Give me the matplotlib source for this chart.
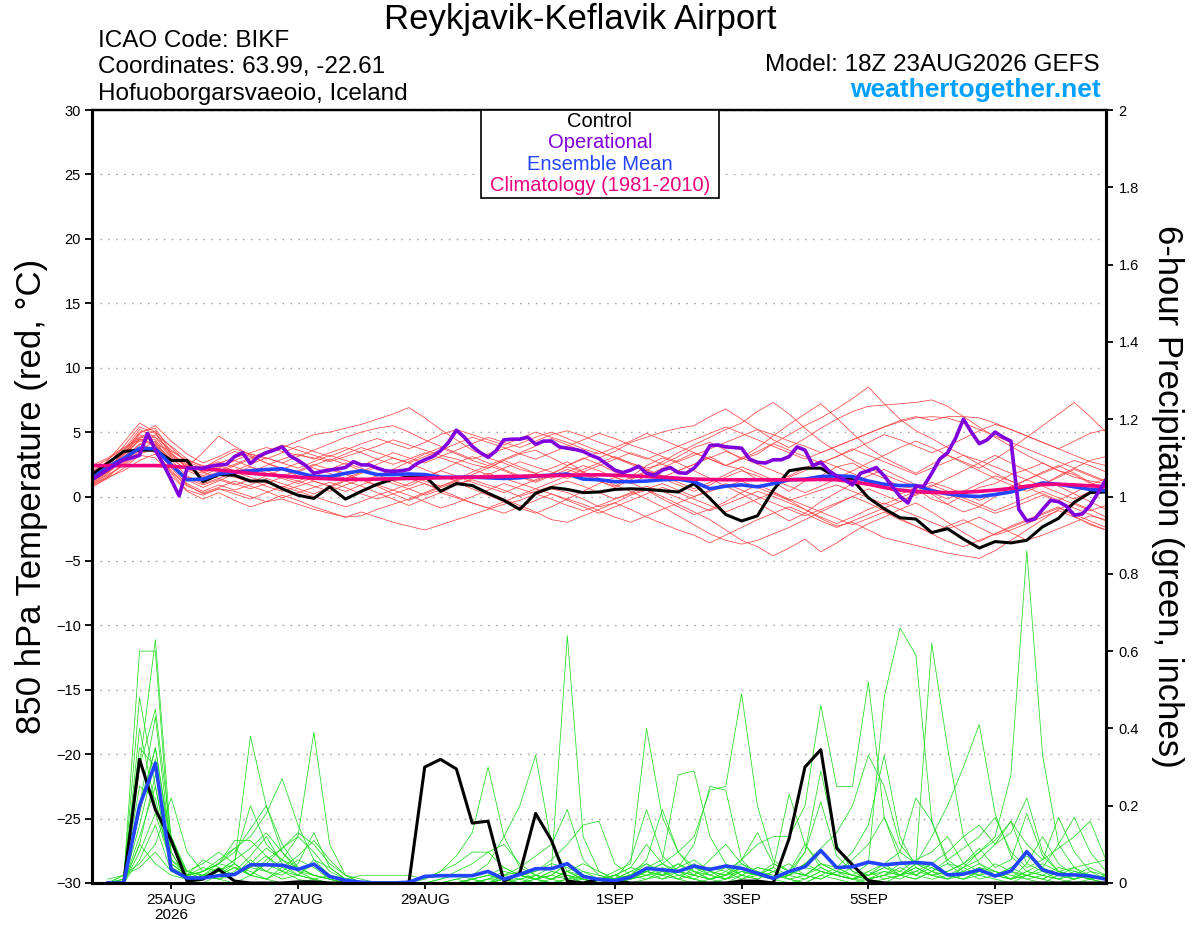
import datetime as dt
import matplotlib.pyplot as plt
from matplotlib.patches import Rectangle

plt.rcParams['font.family'] = ['Liberation Sans', 'DejaVu Sans']

# ------------------------------------------------------------------
# Data
# ------------------------------------------------------------------
run_start = dt.datetime(2026, 8, 23, 18)

tick_dates = [dt.datetime(2026, 8, 25), dt.datetime(2026, 8, 27), dt.datetime(2026, 8, 29),
              dt.datetime(2026, 9, 1), dt.datetime(2026, 9, 3), dt.datetime(2026, 9, 5),
              dt.datetime(2026, 9, 7)]
tick_labels = ['25AUG\n2026', '27AUG', '29AUG', '1SEP', '3SEP', '5SEP', '7SEP']

# 850 hPa temperature, 6-hourly (degC)
ctrl_temp = [
    1.7, 2.6, 3.5, 3.6, 3.6, 2.8, 2.8, 1.15, 1.7, 1.65, 1.2, 1.2, 0.6,
    0.1, -0.15, 0.75, -0.2, 0.4, 0.95, 1.35, 1.5, 1.6, 0.4, 1.0, 0.85, 0.25,
    -0.3, -1.0, 0.25, 0.7, 0.55, 0.3, 0.35, 0.55, 0.6, 0.55, 0.45, 0.35, 1.0,
    -0.15, -1.4, -1.9, -1.5, 0.5, 2.0, 2.2, 2.2, 1.5, 1.3, -0.1, -0.95, -1.65,
    -1.75, -2.8, -2.5, -3.3, -4.0, -3.5, -3.6, -3.4, -2.35, -1.7, -0.45, 0.3, 0.35]

mean_temp = [
    1.4, 2.3, 2.95, 3.75, 3.7, 2.45, 1.3, 1.35, 1.75, 1.9, 2.0, 2.1, 2.15,
    1.85, 1.55, 1.55, 1.8, 2.0, 1.7, 1.7, 1.75, 1.7, 1.5, 1.5, 1.5, 1.45,
    1.4, 1.45, 1.6, 1.65, 1.75, 1.35, 1.3, 1.15, 1.15, 1.2, 1.3, 1.35, 1.15,
    0.6, 0.8, 0.9, 0.75, 1.0, 1.3, 1.35, 1.55, 1.6, 1.55, 1.2, 0.95, 0.85,
    0.85, 0.45, 0.2, 0.05, 0.0, 0.15, 0.35, 0.7, 1.05, 0.95, 0.75, 0.55, 0.45]

clim_temp = [
    2.4, 2.4, 2.4, 2.4, 2.4, 2.35, 2.25, 2.15, 2.05, 1.93, 1.8, 1.7, 1.6,
    1.5, 1.42, 1.37, 1.33, 1.33, 1.35, 1.37, 1.4, 1.42, 1.45, 1.47, 1.5, 1.52,
    1.55, 1.57, 1.6, 1.62, 1.65, 1.67, 1.68, 1.65, 1.6, 1.55, 1.5, 1.42, 1.35,
    1.32, 1.3, 1.3, 1.3, 1.3, 1.3, 1.3, 1.32, 1.3, 1.15, 0.95, 0.7, 0.5,
    0.38, 0.32, 0.3, 0.33, 0.4, 0.5, 0.62, 0.8, 0.93, 0.95, 0.9, 0.83, 0.77]

# operational run, 3-hourly
oper_temp = [
    1.3, 1.7, 2.1, 2.5, 2.85, 3.0, 3.2, 4.9, 3.6, 2.5, 1.3, 0.05, 2.2, 2.2, 2.2, 2.35,
    2.45, 2.5, 3.1, 3.4, 2.55, 3.1, 3.4, 3.6, 3.85, 3.15, 2.8, 2.4, 1.8, 1.95, 2.05, 2.15,
    2.25, 2.7, 2.45, 2.45, 2.2, 2.0, 1.95, 2.0, 2.1, 2.55, 2.85, 3.1, 3.55, 4.2, 5.15, 4.6,
    3.9, 3.4, 3.05, 3.55, 4.4, 4.45, 4.45, 4.6, 4.05, 4.3, 4.3, 3.85, 3.75, 3.65, 3.5, 3.2,
    2.95,
    2.5, 2.05, 1.85, 2.05, 2.35, 1.8, 1.65, 2.05, 2.25, 1.85, 1.8, 2.2, 2.9, 3.95, 4.0, 3.85,
    3.8, 3.75, 2.9, 2.65, 2.6, 2.85, 2.85, 3.1, 3.85, 3.6, 2.4, 2.65, 2.0, 1.6, 1.3, 0.9,
    1.8, 2.0, 2.25, 1.6, 0.8, 0.0, -0.5, 0.8, 0.8, 1.8, 2.9, 3.4, 4.5, 6.0, 5.0, 4.1,
    4.4, 5.0, 4.6, 4.3, -1.0, -1.9, -1.75, -1.0, -0.3, -0.4, -0.75, -1.45, -1.35, -0.7, 0.3, 1.3]

# ensemble members, 6-hourly
t_m01 = [1.5, 2.8, 4.2, 5.7, 5.0, 3.2, 2.4, 2.0, 2.6, 3.0, 3.4, 3.8, 3.5,
         3.2, 3.0, 2.7, 3.1, 3.5, 3.9, 4.4, 4.0, 3.6, 3.2, 2.9, 2.5, 2.2,
         2.8, 3.3, 3.6, 3.0, 2.4, 2.9, 3.5, 3.0, 2.6, 2.2, 2.5, 3.1, 3.8,
         4.2, 3.6, 2.9, 3.3, 4.1, 4.8, 5.5, 6.1, 6.8, 7.6, 8.5, 7.2, 6.0,
         5.1, 4.5, 3.8, 3.2, 2.5, 1.8, 1.2, 0.6, 0.9, 1.6, 2.2, 2.8, 3.1]
t_m02 = [1.0, 1.8, 3.0, 4.5, 4.0, 2.5, 1.5, 1.2, 1.8, 2.4, 2.9, 3.3, 3.8,
         4.3, 4.8, 5.0, 5.3, 5.6, 6.0, 6.4, 6.9, 6.1, 5.2, 4.4, 3.6, 3.0,
         2.6, 2.1, 1.8, 2.2, 2.7, 1.9, 1.2, 0.8, 1.5, 2.4, 3.0, 2.6, 2.0,
         1.4, 0.8, 0.2, -0.5, -1.2, -1.9, -1.3, -0.4, 0.3, 1.0, 1.6, 2.1, 1.5,
         0.9, 0.2, -0.6, -1.2, -0.8, 0.0, 0.7, 1.3, 1.9, 2.4, 1.8, 1.1, 0.5]
t_m03 = [0.7, 1.5, 2.6, 3.8, 3.4, 2.0, 0.9, 0.2, 0.6, 0.4, 0.0, -0.4, -0.2,
         -0.6, -1.0, -1.3, -1.6, -1.2, -1.6, -2.0, -2.3, -2.6, -2.2, -1.8, -1.4, -1.0,
         -0.6, -0.3, 0.2, 0.6, 0.3, -0.2, -0.8, -0.5, 0.1, 0.5, 0.0, -0.6, -1.2,
         -1.8, -2.6, -3.4, -3.9, -4.6, -4.0, -3.3, -4.3, -3.6, -2.8, -2.1, -1.6, -1.0,
         -0.5, -1.2, -2.0, -2.8, -3.5, -2.9, -2.3, -1.8, -1.3, -0.8, -1.5, -2.2, -2.6]
t_m04 = [1.2, 2.0, 3.3, 4.8, 4.2, 2.8, 1.6, 1.0, 1.4, 1.0, 0.6, 1.0, 1.5,
         1.2, 0.8, 0.4, 0.9, 1.3, 0.8, 0.2, -0.3, 0.2, 0.7, 1.1, 0.6, 0.1,
         -0.4, -0.9, -1.3, -0.8, -0.2, 0.4, 1.0, 1.5, 1.1, 0.5, -0.2, -0.8, -1.4,
         -1.0, -0.4, 0.3, 0.9, 0.4, -0.3, -1.0, -1.7, -2.3, -2.0, -2.6, -3.2, -3.5,
         -3.8, -4.1, -4.4, -4.6, -4.8, -4.2, -3.4, -2.6, -1.8, -1.0, -0.5, -1.0, -1.6]
t_m05 = [1.8, 2.6, 3.6, 5.2, 4.6, 3.6, 2.7, 2.2, 2.9, 3.5, 3.1, 2.6, 2.2,
         1.9, 2.4, 2.9, 2.5, 2.0, 1.6, 2.1, 2.7, 3.3, 3.8, 3.3, 2.8, 2.4,
         2.9, 3.4, 3.9, 4.5, 4.0, 3.5, 3.0, 3.5, 4.2, 4.6, 5.0, 5.3, 5.5,
         6.2, 6.8, 6.0, 5.2, 4.4, 3.8, 4.5, 5.3, 6.0, 6.6, 7.0, 7.1, 7.2,
         7.3, 7.5, 7.0, 6.2, 5.4, 4.6, 3.9, 3.2, 2.6, 2.0, 1.5, 1.2, 1.0]
t_m06 = [1.4, 2.2, 3.4, 5.0, 5.3, 3.4, 2.2, 1.6, 2.2, 2.8, 2.3, 1.8, 1.4,
         1.0, 1.5, 2.1, 2.6, 2.2, 1.7, 1.2, 0.8, 1.4, 2.0, 2.6, 3.1, 2.6,
         2.1, 1.6, 1.2, 1.7, 2.4, 3.0, 2.5, 1.9, 1.4, 2.0, 2.7, 3.4, 4.0,
         4.6, 5.2, 5.7, 6.6, 7.3, 6.4, 5.3, 4.3, 3.5, 2.8, 2.2, 1.7, 1.2,
         0.8, 0.3, -0.2, 0.4, 1.0, 1.6, 1.2, 0.7, 0.2, -0.3, 0.3, 0.9, 1.4]
t_m07 = [2.2, 2.9, 3.7, 4.6, 4.4, 3.0, 2.0, 1.5, 1.9, 1.5, 1.1, 1.6, 2.1,
         2.6, 2.2, 1.8, 1.4, 1.9, 2.5, 3.0, 2.6, 2.1, 1.6, 1.2, 1.7, 2.2,
         2.8, 2.3, 1.8, 1.4, 1.9, 2.4, 2.0, 1.5, 1.0, 1.6, 2.2, 2.8, 3.4,
         2.9, 2.4, 3.0, 3.8, 4.7, 5.6, 6.4, 7.2, 6.1, 4.9, 3.8, 3.0, 2.4,
         1.8, 2.5, 3.2, 2.7, 2.2, 2.9, 3.7, 4.6, 5.5, 6.4, 7.3, 6.2, 5.0]
t_m08 = [0.9, 1.6, 2.5, 3.5, 3.9, 2.6, 1.3, 0.7, 1.2, 1.8, 2.3, 2.0, 1.6,
         2.0, 2.5, 2.1, 1.7, 1.2, 1.6, 2.1, 1.7, 1.2, 0.8, 1.3, 1.9, 2.4,
         2.0, 1.5, 1.1, 1.6, 2.1, 1.7, 1.2, 0.7, 1.3, 1.9, 1.4, 0.9, 0.4,
         0.9, 1.5, 2.0, 1.6, 1.1, 1.6, 2.2, 2.8, 2.3, 1.8, 1.2, 0.7, 0.2,
         0.6, 1.1, 0.7, 0.2, -0.3, 0.2, 0.8, 1.3, 0.8, 0.3, -0.2, 0.4, 0.9]
t_m09 = [1.1, 1.9, 2.9, 4.1, 3.6, 1.8, 0.5, 0.1, 0.6, 0.2, -0.2, 0.3, 0.8,
         0.4, 0.0, -0.4, -0.8, -0.4, 0.1, 0.5, 0.1, -0.4, -0.9, -0.5, 0.0, 0.5,
         1.0, 0.6, 0.2, -0.2, -0.7, -1.1, -0.7, -0.2, 0.3, 0.8, 0.4, -0.1, -0.6,
         -1.1, -0.6, -0.1, 0.4, 0.0, -0.5, -1.0, -1.6, -2.1, -1.6, -1.0, -0.5, -1.0,
         -1.5, -2.0, -2.5, -2.1, -1.6, -2.2, -2.8, -3.4, -3.0, -2.5, -2.0, -1.5, -1.8]
t_m10 = [2.0, 2.7, 3.5, 4.9, 5.5, 4.3, 3.3, 2.6, 3.1, 3.7, 3.3, 2.9, 3.4,
         3.9, 3.5, 3.1, 3.6, 4.1, 4.5, 4.1, 3.7, 4.2, 4.8, 5.2, 4.8, 4.4,
         4.0, 4.5, 5.0, 4.6, 4.2, 3.7, 3.3, 3.8, 4.3, 4.9, 4.4, 3.9, 3.4,
         2.9, 2.4, 2.9, 3.5, 4.1, 3.6, 3.1, 2.6, 3.1, 3.6, 4.2, 4.8, 4.4,
         3.9, 3.4, 3.9, 4.5, 5.1, 5.6, 5.2, 4.7, 4.2, 3.7, 4.3, 4.9, 5.2]
t_m11 = [0.8, 1.4, 2.2, 3.2, 3.0, 1.6, 0.4, -0.2, 0.3, -0.3, -0.8, -0.4, 0.1,
         -0.3, -0.8, -1.2, -1.6, -1.5, -1.0, -0.6, -0.2, 0.3, 0.8, 1.2, 0.8, 0.3,
         -0.2, -0.7, -1.2, -1.8, -2.0, -1.5, -1.0, -0.5, -1.0, -1.6, -2.1, -2.6, -3.0,
         -3.6, -3.0, -2.4, -1.8, -1.3, -0.8, -1.3, -1.9, -2.4, -1.9, -1.4, -0.9, -0.4,
         0.1, 0.6, 0.2, -0.3, -0.8, -1.3, -0.9, -0.4, 0.1, -0.4, -0.9, -1.4, -1.9]
t_m12 = [1.6, 2.4, 3.1, 4.0, 4.8, 3.9, 2.9, 2.3, 2.7, 2.3, 1.9, 2.4, 2.9,
         3.3, 2.9, 3.4, 3.8, 3.4, 2.9, 2.5, 2.9, 3.4, 3.0, 2.6, 2.1, 1.7,
         2.2, 2.7, 2.3, 1.9, 1.4, 1.9, 2.4, 2.9, 3.4, 3.0, 2.5, 2.0, 2.5,
         3.0, 3.5, 3.0, 2.5, 2.0, 1.5, 2.0, 2.6, 3.1, 3.7, 3.2, 2.7, 2.2,
         1.7, 2.2, 2.7, 3.2, 2.8, 2.3, 1.8, 1.3, 1.8, 2.3, 2.8, 2.4, 1.9]
t_m13 = [1.3, 2.1, 3.2, 4.4, 4.6, 3.1, 2.3, 3.4, 4.7, 3.9, 3.2, 2.6, 2.1,
         1.6, 1.2, 0.8, 1.3, 1.8, 2.3, 1.9, 1.4, 1.0, 0.5, 0.9, 1.4, 1.8,
         1.4, 1.0, 0.6, 1.1, 1.6, 2.1, 2.6, 3.1, 2.6, 2.1, 1.6, 1.1, 0.6,
         1.1, 1.7, 2.3, 1.8, 1.3, 0.8, 0.3, 0.8, 1.4, 2.0, 2.6, 3.2, 3.8,
         4.3, 3.8, 3.2, 2.6, 2.0, 1.4, 0.9, 0.4, 0.9, 1.5, 2.1, 1.6, 1.1]
t_m14 = [1.7, 2.5, 3.9, 5.4, 4.9, 3.3, 2.5, 1.9, 1.4, 1.9, 1.5, 1.1, 0.7,
         1.2, 1.7, 2.2, 1.8, 1.3, 0.9, 0.5, 1.0, 1.5, 2.0, 1.6, 1.1, 0.7,
         0.3, 0.8, 1.3, 1.8, 2.3, 1.9, 1.4, 0.9, 0.4, -0.2, -0.8, -1.5, -2.2,
         -2.9, -3.4, -3.7, -3.4, -2.9, -2.4, -1.8, -1.2, -0.6, 0.0, 0.6, 0.1, -0.4,
         0.2, 0.8, 1.4, 2.0, 2.6, 3.2, 2.6, 2.0, 1.4, 0.8, 0.2, -0.4, -1.0]
t_m15 = [1.9, 2.6, 3.4, 4.3, 4.0, 2.9, 2.1, 1.8, 2.3, 2.8, 3.3, 3.0, 2.6,
         3.1, 3.6, 4.1, 4.6, 5.0, 5.3, 5.5, 5.0, 4.4, 3.9, 3.4, 2.9, 3.3,
         3.7, 4.1, 4.6, 5.0, 4.5, 4.0, 3.5, 3.0, 2.5, 2.0, 1.5, 2.0, 2.5,
         3.1, 2.4, 2.1, 1.3, 1.1, 0.4, 1.2, 1.6, 2.3, 2.6, 1.9, 1.4, 0.8,
         0.6, -0.2, -0.6, 0.1, 0.7, 1.0, 1.7, 2.1, 2.6, 2.0, 1.7, 1.0, 0.5]
t_m16 = [1.0, 1.7, 2.4, 3.3, 3.7, 2.2, 1.0, 0.4, 0.9, 0.5, 0.9, 1.4, 1.0,
         0.6, 0.2, 0.7, 1.2, 0.8, 0.3, -0.2, -0.7, -0.2, 0.3, -0.1, -0.5, -0.9,
         -0.4, 0.1, 0.6, 0.2, -0.3, -0.8, -1.3, -0.8, -0.3, 0.2, 0.7, 0.3, -0.2,
         -0.7, -1.2, -0.7, -0.2, 0.3, -0.2, -0.7, -1.2, -1.7, -2.2, -1.7, -1.2, -1.8,
         -2.3, -2.8, -2.3, -1.8, -2.4, -3.0, -2.6, -2.1, -1.6, -1.1, -1.6, -2.1, -2.6]
t_m17 = [1.4, 2.3, 3.3, 4.6, 5.1, 3.8, 2.6, 1.9, 2.4, 2.0, 2.5, 3.0, 2.6,
         2.2, 2.7, 3.2, 2.8, 2.4, 2.9, 3.4, 3.0, 2.6, 3.1, 3.6, 4.1, 4.6,
         4.2, 3.8, 4.3, 4.8, 5.1, 4.7, 4.2, 3.8, 3.3, 2.9, 3.4, 3.9, 4.4,
         4.9, 5.4, 4.9, 4.4, 3.9, 3.4, 2.9, 3.4, 3.9, 4.4, 4.9, 5.4, 5.9,
         6.2, 5.9, 6.2, 6.2, 6.1, 5.7, 5.2, 4.7, 4.2, 3.7, 3.2, 2.7, 2.4]
t_m18 = [0.9, 1.5, 2.0, 2.8, 3.3, 1.9, 0.8, 0.3, 0.7, 1.2, 0.8, 0.4, -0.1,
         0.3, 0.7, 1.1, 0.7, 0.2, -0.2, 0.2, 0.6, 1.0, 0.5, 0.0, -0.5, -0.9,
         -1.3, -0.8, -0.3, 0.2, -0.2, -0.6, -1.1, -1.6, -2.0, -1.5, -1.0, -0.5, 0.0,
         0.5, 1.0, 0.5, 0.0, -0.5, -1.0, -1.5, -1.0, -0.5, 0.0, -0.5, -1.1, -1.7,
         -2.3, -2.9, -3.5, -3.9, -3.4, -2.9, -2.4, -1.9, -1.4, -0.9, -1.4, -1.9, -2.4]
t_m19 = [2.4, 3.0, 3.8, 4.4, 4.1, 3.5, 2.8, 2.4, 2.0, 2.5, 3.0, 3.5, 4.0,
         3.6, 3.2, 2.8, 3.3, 3.8, 3.4, 3.0, 2.6, 3.1, 3.6, 4.1, 4.6, 4.2,
         3.8, 3.3, 2.9, 3.4, 3.9, 4.4, 4.9, 4.5, 4.0, 3.6, 3.1, 2.7, 3.2,
         3.7, 4.2, 4.7, 5.2, 4.8, 4.3, 3.9, 3.4, 3.9, 4.4, 4.9, 5.4, 5.8,
         6.1, 6.2, 6.1, 5.7, 5.2, 4.7, 4.2, 3.7, 3.2, 2.7, 2.2, 1.7, 1.2]
t_m20 = [1.2, 1.9, 2.7, 3.6, 4.3, 2.4, 1.4, 0.9, 1.3, 0.9, 1.3, 0.8, 0.4,
         0.8, 1.2, 0.8, 0.4, 0.9, 1.4, 1.0, 0.6, 0.1, 0.5, 0.9, 1.3, 0.9,
         0.5, 0.0, 0.4, 0.8, 1.2, 0.8, 0.3, -0.2, 0.2, 0.6, 1.0, 0.5, 0.0,
         0.4, 0.8, 1.2, 0.7, 0.2, -0.3, 0.1, 0.5, 0.9, 0.4, -0.1, -0.6, -0.1,
         0.4, 0.9, 0.4, -0.1, -0.6, -1.1, -0.6, -0.1, 0.4, -0.1, -0.6, -1.1, -0.7]

# 6-hour precipitation (inches), valid from 00Z 24AUG
ctrl_precip = [
    0, 0, 0.32, 0.19, 0.11, 0.005, 0.01, 0.035, 0.005, 0, 0, 0, 0.003, 0.003, 0, 0,
    0, 0, 0, 0, 0.30, 0.32, 0.295, 0.155, 0.16, 0.005, 0.025, 0.18, 0.11, 0.005, 0, 0.01,
    0.005, 0, 0, 0, 0, 0, 0, 0, 0.005, 0.005, 0, 0.115, 0.30, 0.345, 0.09, 0.047,
    0.006, 0, 0, 0, 0, 0, 0, 0, 0, 0, 0, 0, 0, 0, 0, 0]
mean_precip = [
    0, 0, 0.2, 0.31, 0.035, 0.013, 0.013, 0.019, 0.022, 0.047, 0.047, 0.046, 0.035, 0.049, 0.017, 0.007,
    0.002, 0, 0, 0.002, 0.017, 0.019, 0.019, 0.019, 0.03, 0.01, 0.022, 0.037, 0.037, 0.05, 0.017, 0.009,
    0.006, 0.015, 0.038, 0.034, 0.03, 0.044, 0.035, 0.044, 0.038, 0.025, 0.012, 0.03, 0.042, 0.084, 0.04, 0.042,
    0.054, 0.047, 0.051, 0.053, 0.05, 0.021, 0.023, 0.034, 0.018, 0.031, 0.081, 0.034, 0.022, 0.021, 0.018, 0.01]

p_m01 = [0, 0.01, 0.60, 0.60, 0.06, 0.02, 0.01, 0.02, 0.04, 0.03, 0.01, 0, 0, 0.01, 0, 0,
         0, 0, 0, 0, 0, 0.01, 0.02, 0.01, 0, 0.01, 0.02, 0.01, 0, 0, 0.01, 0,
         0, 0.01, 0.02, 0.03, 0.01, 0, 0.01, 0.02, 0.04, 0.02, 0.01, 0, 0.01, 0.03, 0.02, 0.01,
         0, 0.01, 0.02, 0.01, 0.03, 0.05, 0.04, 0.08, 0.12, 0.28, 0.86, 0.33, 0.10, 0.04, 0.01, 0]
p_m02 = [0, 0, 0.30, 0.63, 0.10, 0.03, 0.02, 0.01, 0, 0.02, 0.05, 0.03, 0.01, 0, 0, 0,
         0, 0, 0, 0, 0, 0.01, 0.03, 0.05, 0.08, 0.10, 0.05, 0.02, 0.04, 0.64, 0.12, 0.03,
         0.01, 0.02, 0.05, 0.03, 0.01, 0.02, 0.01, 0, 0.01, 0.03, 0.02, 0.01, 0, 0.02, 0.04, 0.02,
         0.01, 0, 0.02, 0.05, 0.03, 0.01, 0.02, 0.04, 0.03, 0.01, 0.02, 0.04, 0.02, 0.01, 0.03, 0.01]
p_m03 = [0, 0.01, 0.48, 0.25, 0.04, 0.02, 0.03, 0.05, 0.04, 0.02, 0.06, 0.09, 0.12, 0.39, 0.10, 0.02,
         0, 0, 0, 0, 0, 0, 0.01, 0, 0, 0.02, 0.03, 0.01, 0.02, 0.05, 0.03, 0.01,
         0, 0.01, 0.02, 0.04, 0.02, 0.01, 0, 0.01, 0.03, 0.02, 0.01, 0.02, 0.05, 0.08, 0.04, 0.02,
         0.05, 0.48, 0.66, 0.59, 0.16, 0.06, 0.03, 0.02, 0.05, 0.03, 0.02, 0.01, 0, 0.01, 0.02, 0.01]
p_m04 = [0, 0, 0.20, 0.43, 0.08, 0.01, 0, 0.02, 0.05, 0.38, 0.20, 0.10, 0.04, 0.02, 0.01, 0,
         0, 0, 0, 0, 0, 0, 0, 0.01, 0.02, 0.01, 0, 0.01, 0.03, 0.02, 0.01, 0,
         0, 0, 0.01, 0.02, 0.03, 0.01, 0, 0, 0.02, 0.04, 0.03, 0.01, 0, 0.02, 0.01, 0,
         0.01, 0.02, 0.05, 0.05, 0.62, 0.35, 0.12, 0.05, 0.02, 0.01, 0.03, 0.02, 0.01, 0, 0.01, 0.02]
p_m05 = [0, 0.02, 0.35, 0.30, 0.05, 0.02, 0.01, 0.03, 0.06, 0.09, 0.13, 0.08, 0.04, 0.02, 0.01, 0,
         0, 0, 0, 0, 0, 0, 0, 0, 0.01, 0.02, 0.01, 0, 0.01, 0.02, 0, 0,
         0, 0.01, 0.03, 0.02, 0.05, 0.03, 0.01, 0.02, 0.04, 0.02, 0.01, 0.02, 0.05, 0.09, 0.13, 0.20,
         0.33, 0.25, 0.10, 0.05, 0.04, 0.02, 0.03, 0.01, 0.02, 0.03, 0.01, 0, 0.02, 0.04, 0.02, 0.01]
p_m06 = [0, 0, 0.15, 0.32, 0.06, 0.03, 0.05, 0.08, 0.05, 0.02, 0.01, 0.03, 0.06, 0.04, 0.01, 0,
         0, 0, 0, 0, 0, 0, 0, 0.01, 0.02, 0.04, 0.02, 0.01, 0, 0.01, 0.02, 0.01,
         0.02, 0.04, 0.03, 0.05, 0.08, 0.12, 0.24, 0.25, 0.49, 0.20, 0.06, 0.03, 0.08, 0.29, 0.10, 0.03,
         0.01, 0.02, 0.01, 0.03, 0.02, 0.01, 0.04, 0.02, 0.01, 0, 0.02, 0.03, 0.01, 0.02, 0.01, 0]
p_m07 = [0, 0.01, 0.25, 0.22, 0.04, 0.01, 0.02, 0.04, 0.02, 0.06, 0.03, 0.01, 0.02, 0.05, 0.02, 0,
         0, 0, 0, 0, 0, 0, 0, 0, 0, 0.01, 0.02, 0.03, 0.05, 0.04, 0.02, 0.01,
         0.03, 0.05, 0.40, 0.17, 0.08, 0.04, 0.02, 0.01, 0.03, 0.02, 0.01, 0.02, 0.04, 0.03, 0.02, 0.04,
         0.02, 0.05, 0.08, 0.05, 0.12, 0.20, 0.30, 0.41, 0.18, 0.07, 0.03, 0.02, 0.01, 0.03, 0.02, 0.01]
p_m08 = [0, 0, 0.10, 0.28, 0.12, 0.02, 0.03, 0.06, 0.09, 0.12, 0.18, 0.27, 0.15, 0.06, 0.02, 0.01,
         0, 0, 0, 0, 0.01, 0.03, 0.07, 0.13, 0.30, 0.12, 0.04, 0.02, 0.01, 0.03, 0.02, 0,
         0.01, 0.02, 0.01, 0.03, 0.05, 0.02, 0.01, 0.03, 0.06, 0.10, 0.12, 0.12, 0.20, 0.46, 0.25, 0.25,
         0.52, 0.17, 0.06, 0.02, 0.04, 0.02, 0.01, 0.02, 0.03, 0.01, 0.02, 0.01, 0.03, 0.02, 0.01, 0.02]
p_m09 = [0, 0, 0.20, 0.35, 0.08, 0.01, 0.02, 0.01, 0.03, 0.07, 0.12, 0.05, 0.02, 0.01, 0, 0,
         0, 0, 0, 0, 0, 0, 0.01, 0.02, 0.05, 0.12, 0.20, 0.33, 0.10, 0.03, 0.01, 0,
         0.01, 0.02, 0.04, 0.06, 0.28, 0.29, 0.12, 0.05, 0.02, 0.01, 0.03, 0.05, 0.02, 0.01, 0.03, 0.02,
         0.01, 0.03, 0.02, 0.04, 0.02, 0.01, 0.03, 0.05, 0.03, 0.02, 0.01, 0.02, 0.04, 0.03, 0.02, 0.01]
p_m10 = [0, 0.02, 0.05, 0.10, 0.22, 0.08, 0.03, 0.05, 0.08, 0.14, 0.20, 0.08, 0.03, 0.01, 0, 0,
         0, 0, 0, 0, 0, 0, 0, 0, 0.01, 0.03, 0.02, 0.01, 0.02, 0.05, 0.02, 0.01,
         0.02, 0.01, 0.03, 0.05, 0.03, 0.02, 0.06, 0.10, 0.05, 0.02, 0.04, 0.23, 0.10, 0.05, 0.03, 0.02,
         0.01, 0.02, 0.04, 0.02, 0.05, 0.08, 0.12, 0.15, 0.10, 0.13, 0.22, 0.08, 0.03, 0.02, 0.01, 0]
p_m11 = [0, 0, 0.08, 0.18, 0.05, 0.02, 0.04, 0.03, 0.06, 0.20, 0.10, 0.06, 0.12, 0.08, 0.03, 0.01,
         0, 0, 0, 0, 0, 0, 0, 0.01, 0, 0.01, 0.02, 0.01, 0.03, 0.02, 0.01, 0,
         0.01, 0.03, 0.05, 0.02, 0.04, 0.10, 0.25, 0.24, 0.06, 0.02, 0.01, 0.03, 0.02, 0.05, 0.03, 0.01,
         0.02, 0.04, 0.02, 0.03, 0.05, 0.02, 0.04, 0.06, 0.10, 0.16, 0.05, 0.12, 0.05, 0.02, 0.01, 0.02]
p_m12 = [0, 0, 0.12, 0.25, 0.04, 0.01, 0.02, 0.05, 0.09, 0.05, 0.03, 0.06, 0.04, 0.02, 0.01, 0,
         0, 0, 0, 0, 0, 0, 0, 0, 0, 0.02, 0.04, 0.07, 0.10, 0.19, 0.06, 0.02,
         0.01, 0.02, 0.06, 0.19, 0.08, 0.03, 0.02, 0.04, 0.02, 0.01, 0.03, 0.02, 0.05, 0.03, 0.02, 0.01,
         0.03, 0.01, 0.02, 0.04, 0.02, 0.03, 0.05, 0.03, 0.02, 0.04, 0.07, 0.04, 0.10, 0.17, 0.08, 0.03]
p_m13 = [0, 0, 0.06, 0.15, 0.03, 0.01, 0.02, 0.03, 0.02, 0.04, 0.07, 0.04, 0.02, 0.06, 0.04, 0.01,
         0, 0, 0, 0, 0, 0, 0, 0, 0.01, 0.01, 0.02, 0.03, 0.06, 0.10, 0.15, 0.16,
         0.05, 0.02, 0.03, 0.02, 0.04, 0.06, 0.03, 0.01, 0.02, 0.04, 0.03, 0.01, 0.02, 0.05, 0.04, 0.08,
         0.15, 0.33, 0.12, 0.04, 0.02, 0.03, 0.05, 0.08, 0.11, 0.16, 0.10, 0.06, 0.17, 0.08, 0.03, 0.02]
p_m14 = [0, 0, 0.10, 0.05, 0.02, 0.01, 0.03, 0.05, 0.11, 0.11, 0.07, 0.03, 0.02, 0.01, 0.02, 0.01,
         0.02, 0.02, 0.02, 0.02, 0.01, 0.03, 0.05, 0.08, 0.08, 0.04, 0.02, 0.01, 0, 0.01, 0.03, 0.02,
         0.01, 0.03, 0.02, 0.01, 0.03, 0.05, 0.02, 0.01, 0.04, 0.02, 0.01, 0.03, 0.02, 0.04, 0.02, 0.01,
         0.03, 0.05, 0.02, 0.01, 0.03, 0.06, 0.09, 0.12, 0.17, 0.08, 0.04, 0.06, 0.09, 0.12, 0.16, 0.06]
p_m15 = [0, 0, 0.18, 0.35, 0.10, 0.03, 0.01, 0.02, 0.04, 0.02, 0.05, 0.09, 0.13, 0.10, 0.05, 0.02,
         0, 0, 0, 0, 0, 0, 0, 0, 0, 0, 0.01, 0.02, 0.01, 0.03, 0.05, 0.03,
         0.01, 0.06, 0.19, 0.07, 0.03, 0.02, 0.04, 0.03, 0.01, 0.02, 0.05, 0.03, 0.02, 0.01, 0.03, 0.06,
         0.10, 0.17, 0.08, 0.22, 0.16, 0.05, 0.02, 0.04, 0.02, 0.01, 0.03, 0.05, 0.03, 0.01, 0.02, 0.01]
p_m16 = [0, 0, 0.40, 0.20, 0.05, 0.02, 0.01, 0.03, 0.05, 0.02, 0.01, 0.04, 0.07, 0.11, 0.06, 0.02,
         0.01, 0, 0, 0, 0, 0, 0, 0.01, 0.02, 0.01, 0, 0.02, 0.01, 0.03, 0.01, 0,
         0.02, 0.04, 0.10, 0.05, 0.02, 0.01, 0.03, 0.02, 0.05, 0.03, 0.01, 0.02, 0.08, 0.21, 0.07, 0.03,
         0.02, 0.04, 0.03, 0.06, 0.08, 0.12, 0.05, 0.09, 0.04, 0.06, 0.18, 0.07, 0.03, 0.02, 0.04, 0.02]
p_m17 = [0.01, 0.02, 0.04, 0.08, 0.03, 0.02, 0.06, 0.04, 0.02, 0.05, 0.09, 0.06, 0.03, 0.02, 0.01, 0,
         0, 0, 0, 0, 0, 0, 0, 0, 0, 0.01, 0.01, 0.02, 0.01, 0, 0.02, 0.01,
         0.02, 0.01, 0.03, 0.02, 0.01, 0.04, 0.03, 0.02, 0.06, 0.13, 0.05, 0.03, 0.10, 0.04, 0.02, 0.01,
         0.02, 0.03, 0.02, 0.05, 0.03, 0.02, 0.01, 0.03, 0.02, 0.04, 0.02, 0.01, 0.03, 0.04, 0.05, 0.06]
p_m18 = [0, 0.01, 0.30, 0.45, 0.12, 0.03, 0.02, 0.01, 0.02, 0.04, 0.03, 0.02, 0.05, 0.13, 0.04, 0.01,
         0, 0, 0, 0, 0, 0, 0, 0, 0, 0, 0, 0.01, 0.02, 0.01, 0.01, 0,
         0.01, 0.02, 0.03, 0.01, 0.02, 0.03, 0.01, 0.02, 0.03, 0.02, 0.04, 0.02, 0.01, 0.03, 0.02, 0.01,
         0.01, 0.02, 0.03, 0.02, 0.01, 0.02, 0.01, 0.03, 0.02, 0.01, 0.05, 0.03, 0.02, 0.01, 0.02, 0.01]

temp_members = [t_m01, t_m02, t_m03, t_m04, t_m05, t_m06, t_m07, t_m08, t_m09, t_m10,
                t_m11, t_m12, t_m13, t_m14, t_m15, t_m16, t_m17, t_m18, t_m19, t_m20]
precip_members = [p_m01, p_m02, p_m03, p_m04, p_m05, p_m06, p_m07, p_m08, p_m09,
                  p_m10, p_m11, p_m12, p_m13, p_m14, p_m15, p_m16, p_m17, p_m18]

temp_times = [run_start + dt.timedelta(hours=6 * i) for i in range(len(ctrl_temp))]
oper_times = [run_start + dt.timedelta(hours=3 * k) for k in range(len(oper_temp))]
precip_times = [run_start + dt.timedelta(hours=6 * (j + 1)) for j in range(len(ctrl_precip))]

# colours
RED = '#ff4545'
GREEN = '#22dd22'
BLUE = '#2244ff'
PURPLE = '#8000dd'
MAGENTA = '#f0007f'

# ------------------------------------------------------------------
# Figure
# ------------------------------------------------------------------
W, H = 1200, 927
fig = plt.figure(figsize=(W / 100, H / 100), dpi=100)
ax = fig.add_axes([92 / W, 44 / H, 1014 / W, 773 / H])
ax2 = ax.twinx()

for m in temp_members:
    ax.plot(temp_times, m, color=RED, lw=0.55)
ax.plot(temp_times, ctrl_temp, color='black', lw=2.2)
ax.plot(temp_times, mean_temp, color=BLUE, lw=2.6)
ax.plot(temp_times, clim_temp, color=MAGENTA, lw=2.6)
ax.plot(oper_times, oper_temp, color=PURPLE, lw=2.6)

for m in precip_members:
    ax2.plot(precip_times, m, color=GREEN, lw=0.55)
ax2.plot(precip_times, ctrl_precip, color='black', lw=2.2)
ax2.plot(precip_times, mean_precip, color=BLUE, lw=2.6)

ax.set_xlim(run_start, run_start + dt.timedelta(days=16))
ax.set_ylim(-30, 30)
ax2.set_ylim(0, 2)

ax.set_yticks(range(-30, 31, 5))
ax.yaxis.grid(True, color='#a8a8a8', linestyle=(0, (1.2, 4.5)), lw=1.0)
ax.set_axisbelow(True)
p_ticks = [round(0.2 * i, 1) for i in range(11)]
ax2.set_yticks(p_ticks)
ax2.set_yticklabels([f'{v:g}' for v in p_ticks])

ax.set_xticks(tick_dates)
ax.set_xticklabels(tick_labels, linespacing=1.15)

ax.tick_params(axis='y', direction='out', length=5, width=1.3, labelsize=10.5, pad=3)
ax2.tick_params(axis='y', direction='out', length=5, width=1.3, labelsize=10.5, pad=4)
ax.tick_params(axis='x', direction='out', length=4, width=1.3, labelsize=11, pad=3)

for a in (ax, ax2):
    for s in a.spines.values():
        s.set_linewidth(2.2)
    a.spines['top'].set_linewidth(1.6)

ax.set_ylabel('850 hPa Temperature (red, °C)', fontsize=25, va='center', ha='center')
ax.yaxis.set_label_coords(-0.060, 0.5)
ax2.set_ylabel('6-hour Precipitation (green, inches)', fontsize=25, rotation=270,
               va='center', ha='center')
ax2.yaxis.set_label_coords(1.061, 0.5)

# header texts
fig.text(580 / W, 1 - 29.5 / H, 'Reykjavik-Keflavik Airport', fontsize=25,
         ha='center', va='baseline')
fig.text(98 / W, 1 - 47 / H, 'ICAO Code: BIKF', fontsize=17.5, va='baseline')
fig.text(98 / W, 1 - 73.5 / H, 'Coordinates: 63.99, -22.61', fontsize=17.5, va='baseline')
fig.text(98 / W, 1 - 100 / H, 'Hofuoborgarsvaeoio, Iceland', fontsize=17.5, va='baseline')
fig.text(1100 / W, 1 - 71 / H, 'Model: 18Z 23AUG2026 GEFS', fontsize=17.5,
         ha='right', va='baseline')
fig.text(1101 / W, 1 - 97.5 / H, 'weathertogether.net', fontsize=19, fontweight='bold',
         color='#00a0ff', ha='right', va='baseline')

# legend box
fig.patches.append(Rectangle((481 / W, 1 - 198 / H), 238 / W, 88 / H,
                             transform=fig.transFigure, facecolor='white',
                             edgecolor='black', lw=1.2, zorder=5))
legend_items = [('Control', 'black', 126.5), ('Operational', PURPLE, 148),
                ('Ensemble Mean', BLUE, 169.5), ('Climatology (1981-2010)', MAGENTA, 191)]
for label, colour, base in legend_items:
    fig.text(600 / W, 1 - base / H, label, color=colour, fontsize=14.5,
             ha='center', va='baseline', zorder=6)

fig.savefig('out.png', dpi=100)
